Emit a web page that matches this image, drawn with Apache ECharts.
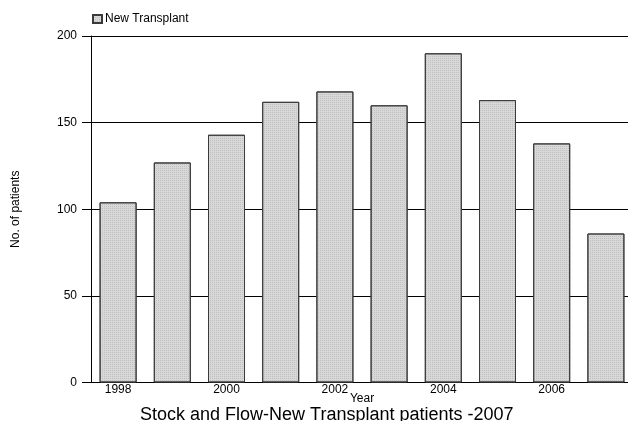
<!DOCTYPE html>
<html>
<head>
<meta charset="utf-8">
<script src="https://cdn.jsdelivr.net/npm/echarts@6/dist/echarts.min.js"></script>
<style>html,body{margin:0;padding:0;background:#fff;}#c{width:628px;height:421px;}</style>
</head>
<body>
<div id="c"></div>
<script>
var categories = ['1998','1999','2000','2001','2002','2003','2004','2005','2006','2007'];
var newTransplant = [104, 127, 143, 162, 168, 160, 190, 163, 138, 86];
var yTicks = [0, 50, 100, 150, 200];

var chart = echarts.init(document.getElementById('c'));
var font = 'Liberation Sans, Arial, sans-serif';
chart.setOption({
  animation: false,
  backgroundColor: '#fff',
  textStyle: { fontFamily: font },
  title: {
    text: 'Stock and Flow-New Transplant patients -2007',
    left: 140, top: 406, padding: 0,
    textStyle: { fontSize: 18, fontWeight: 'normal', color: '#000', fontFamily: font }
  },
  legend: {
    left: 87, top: 8,
    itemWidth: 9, itemHeight: 8, itemGap: 5,
    icon: 'rect',
    textStyle: { fontSize: 12, color: '#000', fontFamily: font, padding: [0,0,0,-2] },
    data: ['New Transplant']
  },
  grid: { left: 91, width: 542, top: 36, bottom: 38.5, containLabel: false, outerBoundsMode: 'none' },
  xAxis: {
    type: 'category',
    data: categories,
    name: 'Year',
    nameLocation: 'middle',
    nameGap: 10,
    nameMoveOverlap: false,
    nameTextStyle: { fontSize: 12, color: '#000' },
    axisLine: { lineStyle: { color: '#000', width: 1 } },
    axisTick: { show: false },
    axisLabel: { interval: 1, fontSize: 12, color: '#000', margin: 1 }
  },
  yAxis: {
    type: 'value',
    min: yTicks[0], max: yTicks[yTicks.length - 1], interval: 50,
    name: 'No. of patients',
    nameLocation: 'middle',
    nameGap: 69,
    nameRotate: 90,
    nameMoveOverlap: false,
    nameTextStyle: { fontSize: 12, color: '#000' },
    axisLine: { show: true, lineStyle: { color: '#000', width: 1 } },
    axisTick: { show: true, length: 9, lineStyle: { color: '#000' } },
    axisLabel: { fontSize: 12, color: '#000', margin: 14 },
    splitLine: { show: true, lineStyle: { color: '#000', width: 1 } }
  },
  series: [{
    name: 'New Transplant',
    type: 'bar',
    data: newTransplant,
    barWidth: 37,
    itemStyle: {
      color: '#d8d8d8',
      borderColor: '#3a3a3a',
      borderWidth: 1,
      decal: {
        symbol: 'rect', symbolSize: 1,
        dashArrayX: [1, 1], dashArrayY: [1, 1],
        color: 'rgba(150,150,150,0.35)', rotation: 0
      }
    }
  }]
});
</script>
</body>
</html>
